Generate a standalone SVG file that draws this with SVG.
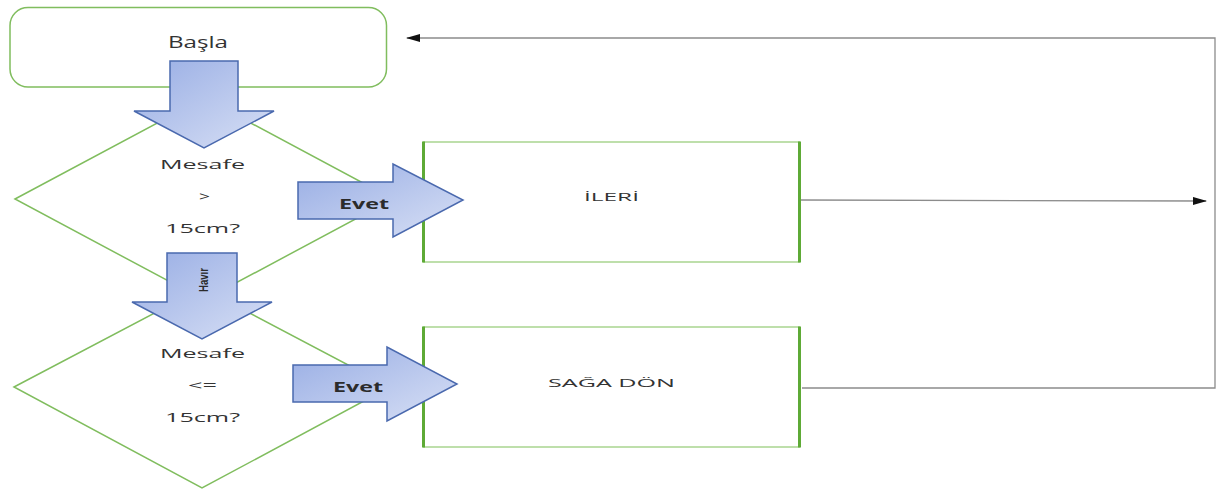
<svg xmlns="http://www.w3.org/2000/svg" width="1219" height="489" viewBox="0 0 1219 489">
<style>
.outline{fill:#fff;stroke:#80BD5E;stroke-width:1.5}
.boxtb{stroke:#A9D48F;stroke-width:1.5}
.boxside{stroke:#5EAA36;stroke-width:3}
.blk{fill:url(#blue);stroke:#4A69AE;stroke-width:1.5;stroke-linejoin:miter}
.t{font-family:"Open Sans","DejaVu Sans",sans-serif;fill:#333;text-anchor:middle}
.b{font-family:"Open Sans","Liberation Sans",sans-serif;font-weight:bold;fill:#2b2b2b;text-anchor:middle}
.conn{fill:none;stroke:#8c8c8c;stroke-width:1.3}
</style>
<defs>
<linearGradient id="blue" x1="0" y1="0" x2="1" y2="1">
<stop offset="0" stop-color="#98ADE4"/>
<stop offset="1" stop-color="#D8E0F5"/>
</linearGradient>
<marker id="ah" markerWidth="14" markerHeight="8" refX="13" refY="4" orient="auto" markerUnits="userSpaceOnUse">
<path d="M0,0 L14,4 L0,8 Z" fill="#111"/>
</marker>
</defs>

<g id="start">
<rect class="outline" x="10" y="7.5" width="376.5" height="79.5" rx="18"/>
<text class="t" x="198" y="47.5" font-size="16" textLength="60" lengthAdjust="spacingAndGlyphs">Başla</text>
</g>

<g id="decision1">
<polygon class="outline" points="15,199 204,98 393,199 204,300"/>
<text class="t" x="202.5" y="169" font-size="12.6" textLength="85" lengthAdjust="spacingAndGlyphs">Mesafe</text>
<text class="t" x="204.5" y="201" font-size="12.6" textLength="11" lengthAdjust="spacingAndGlyphs">&gt;</text>
<text class="t" x="202.5" y="233" font-size="12.6" textLength="75" lengthAdjust="spacingAndGlyphs">15cm?</text>
</g>

<g id="decision2">
<polygon class="outline" points="14,387 202,288 390,387 202,488"/>
<text class="t" x="202.5" y="358" font-size="12.6" textLength="85" lengthAdjust="spacingAndGlyphs">Mesafe</text>
<text class="t" x="202.5" y="390" font-size="12.6" textLength="29" lengthAdjust="spacingAndGlyphs">&lt;=</text>
<text class="t" x="202.5" y="422" font-size="12.6" textLength="75" lengthAdjust="spacingAndGlyphs">15cm?</text>
</g>

<g id="ileri">
<rect x="423" y="142" width="377" height="120" fill="#fff"/>
<line class="boxtb" x1="423" y1="142" x2="800" y2="142"/>
<line class="boxtb" x1="423" y1="262" x2="800" y2="262"/>
<line class="boxside" x1="423.5" y1="141.5" x2="423.5" y2="262.5"/>
<line class="boxside" x1="799.5" y1="141.5" x2="799.5" y2="262.5"/>
<text class="t" x="611.5" y="200.5" font-size="10.5" textLength="55" lengthAdjust="spacingAndGlyphs">İLERİ</text>
</g>

<g id="saga-don">
<rect x="423" y="327" width="377" height="120" fill="#fff"/>
<line class="boxtb" x1="423" y1="327" x2="800" y2="327"/>
<line class="boxtb" x1="423" y1="447" x2="800" y2="447"/>
<line class="boxside" x1="423.5" y1="326.5" x2="423.5" y2="447.5"/>
<line class="boxside" x1="799.5" y1="326.5" x2="799.5" y2="447.5"/>
<text class="t" x="611.5" y="387" font-size="11.5" textLength="127" lengthAdjust="spacingAndGlyphs">SAĞA DÖN</text>
</g>

<g id="connectors">
<polyline class="conn" points="801,200 1206,201" marker-end="url(#ah)"/>
<polyline class="conn" points="802,388 1215,388 1215,38 407,38" marker-end="url(#ah)"/>

<g id="arrow-start">
<polygon class="blk" points="170,61 238,61 238,111 274,111 204,148 134,111 170,111"/>
</g>
<g id="arrow-havir">
<polygon class="blk" points="167,253 237,253 237,302 272,302 202,339 132,302 167,302"/>
<text transform="translate(207.5,280) rotate(-90)" font-family="'Liberation Sans',Arial,sans-serif" font-weight="bold" font-size="12" fill="#2b2b2b" text-anchor="middle" textLength="24" lengthAdjust="spacingAndGlyphs">Havır</text>
</g>
<g id="arrow-evet1">
<polygon class="blk" points="298,182 393,182 393,164 463,200 393,237 393,219 298,219"/>
<text class="b" x="364" y="209" font-size="15" textLength="50" lengthAdjust="spacingAndGlyphs">Evet</text>
</g>
<g id="arrow-evet2">
<polygon class="blk" points="293,365 387,365 387,347 457,384 387,421 387,402 293,402"/>
<text class="b" x="358" y="392" font-size="15" textLength="50" lengthAdjust="spacingAndGlyphs">Evet</text>
</g>
</g>
</svg>
